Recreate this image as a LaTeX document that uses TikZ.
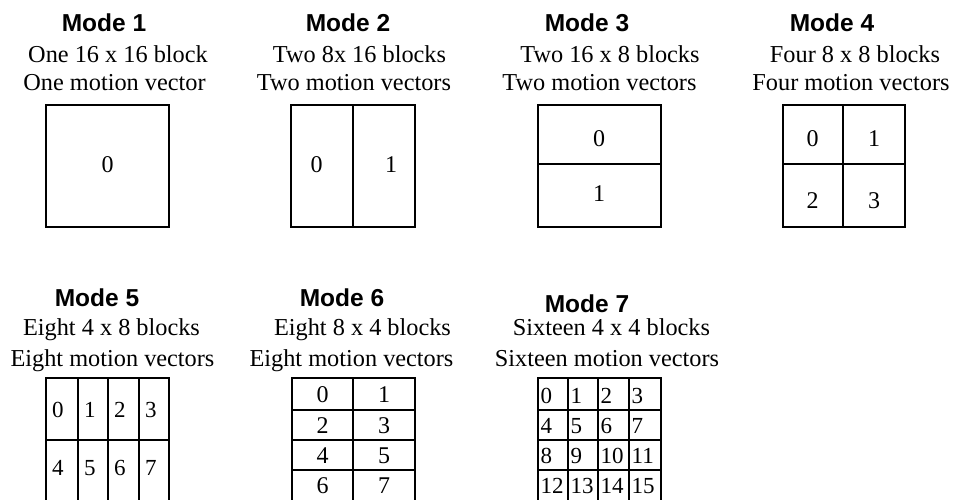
\documentclass[tikz,border=0pt]{standalone}
\usepackage{fontspec}
\setmainfont{Liberation Serif}
\newfontfamily\headfont{Liberation Sans}
\begin{document}
\begin{tikzpicture}[x=1pt,y=-1pt,
  grid/.style={line width=1.8pt, line join=miter},
  title/.style={anchor=base, inner sep=0pt, font=\headfont\bfseries\fontsize{24.5}{28}\selectfont},
  caption/.style={anchor=base, inner sep=0pt, font=\fontsize{24.3}{28}\selectfont},
  num/.style={anchor=base, inner sep=0pt, font=\fontsize{24}{28}\selectfont},
  lnum/.style={anchor=base west, inner sep=0pt, font=\fontsize{23}{28}\selectfont}]
\useasboundingbox (0,0) rectangle (954,500);
\clip (0,0) rectangle (954,500);

% Mode 1: one 16x16 partition
\node[title]   (t1) at (104,32)    {Mode 1};
\node[caption] (a1) at (118,63)    {One 16 x 16 block};
\node[caption] (b1) at (114.5,91)  {One motion vector};
\draw[grid] (46,105) rectangle (169,227);
\node[num] (m1n0) at (107.5,173) {0};

% Mode 2: two 8x16 partitions
\node[title]   (t2) at (348,32)    {Mode 2};
\node[caption] (a2) at (359.5,63)  {Two 8x 16 blocks};
\node[caption] (b2) at (354,91)    {Two motion vectors};
\draw[grid] (291,105) rectangle (415,227);
\draw[grid] (353,105) -- (353,227);
\node[num] (m2n0) at (316.5,173) {0};
\node[num] (m2n1) at (391,173)   {1};

% Mode 3: two 16x8 partitions
\node[title]   (t3) at (587,32)    {Mode 3};
\node[caption] (a3) at (610,63)    {Two 16 x 8 blocks};
\node[caption] (b3) at (599.5,91)  {Two motion vectors};
\draw[grid] (538,105) rectangle (661,227);
\draw[grid] (538,164) -- (661,164);
\node[num] (m3n0) at (599,147) {0};
\node[num] (m3n1) at (599,202) {1};

% Mode 4: four 8x8 partitions
\node[title]   (t4) at (832,32)    {Mode 4};
\node[caption] (a4) at (855,63)    {Four 8 x 8 blocks};
\node[caption] (b4) at (851,91)    {Four motion vectors};
\draw[grid] (783,105) rectangle (905,227);
\draw[grid] (843,105) -- (843,227);
\draw[grid] (783,164) -- (905,164);
\node[num] (m4n0) at (812.5,147) {0};
\node[num] (m4n1) at (874,147)   {1};
\node[num] (m4n2) at (812.5,208) {2};
\node[num] (m4n3) at (874,208)   {3};

% Mode 5: eight 4x8 partitions
\node[title]   (t5) at (97,306)    {Mode 5};
\node[caption] (a5) at (111.5,335) {Eight 4 x 8 blocks};
\node[caption] (b5) at (112.5,366) {Eight motion vectors};
\draw[grid] (46,378) rectangle (169,512);
\foreach \x in {78,108,139} \draw[grid] (\x,378) -- (\x,512);
\draw[grid] (46,440) -- (169,440);
\foreach \x/\i in {46/0,78/1,108/2,139/3} {
  \node[lnum] (m5n\i) at (\x+6,417) {\i};
}
\foreach \x/\i in {46/4,78/5,108/6,139/7} {
  \node[lnum] (m5n\i) at (\x+6,475) {\i};
}

% Mode 6: eight 8x4 partitions
\node[title]   (t6) at (342,306)   {Mode 6};
\node[caption] (a6) at (362.5,335) {Eight 8 x 4 blocks};
\node[caption] (b6) at (351.5,366) {Eight motion vectors};
\draw[grid] (292,378) rectangle (415,512);
\draw[grid] (353,378) -- (353,512);
\foreach \y in {410,440,470} \draw[grid] (292,\y) -- (415,\y);
\foreach \y/\l/\r in {402/0/1,433/2/3,463/4/5,493/6/7} {
  \node[num] (m6n\l) at (322.5,\y) {\l};
  \node[num] (m6n\r) at (384,\y)   {\r};
}

% Mode 7: sixteen 4x4 partitions
\node[title]   (t7) at (587,312)   {Mode 7};
\node[caption] (a7) at (611.5,335) {Sixteen 4 x 4 blocks};
\node[caption] (b7) at (607,366)   {Sixteen motion vectors};
\draw[grid] (538,378) rectangle (661,512);
\foreach \x in {568,598,629} \draw[grid] (\x,378) -- (\x,512);
\foreach \y in {410,440,470} \draw[grid] (538,\y) -- (661,\y);
\foreach \y [count=\r from 0] in {403,433,463,493} {
  \foreach \x [count=\c from 0] in {538,568,598,629} {
    \pgfmathtruncatemacro{\k}{4*\r+\c}
    \node[lnum] (m7n\k) at (\x+2.5,\y) {\k};
  }
}
\end{tikzpicture}
\end{document}
